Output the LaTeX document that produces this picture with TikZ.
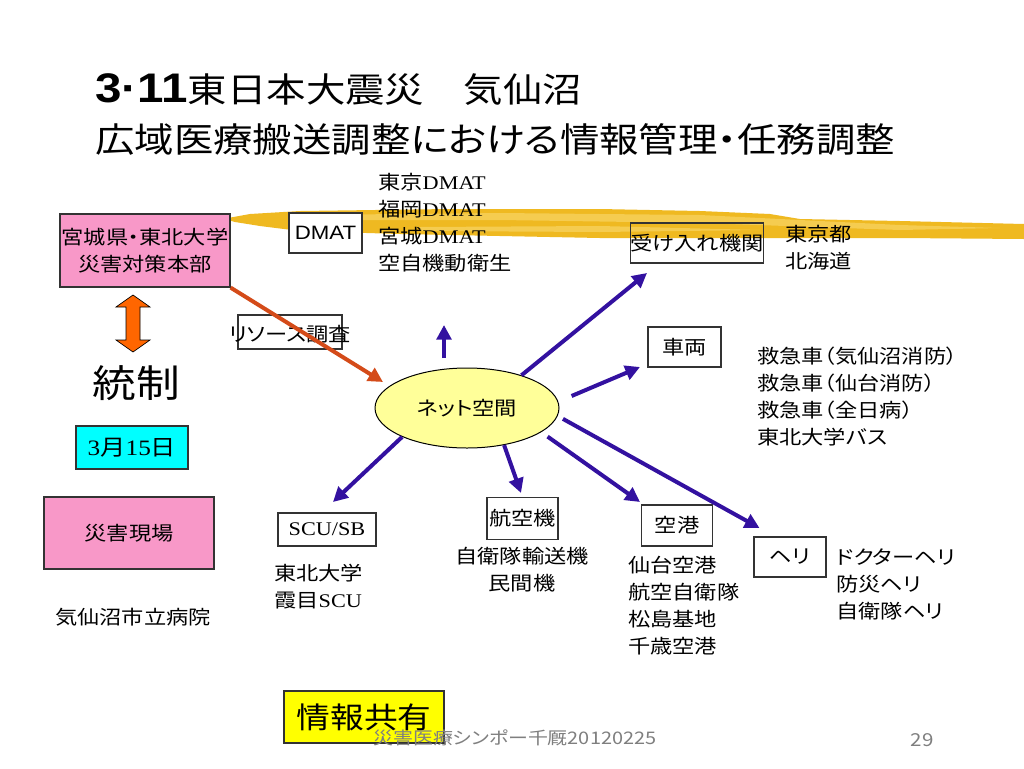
\documentclass[tikz,border=0pt]{standalone}
\usepackage{fontspec}
\setmainfont{Noto Sans CJK JP}[FakeStretch=1.15,RawFeature=+palt]
\newfontfamily\tm{Liberation Serif}[FakeStretch=1.15]
\newfontfamily\ar{Liberation Sans}[FakeStretch=1.15]
\usetikzlibrary{arrows.meta,shapes.geometric}
\definecolor{pinkc}{HTML}{F898C8}
\definecolor{cyanc}{HTML}{00FFFF}
\definecolor{yellc}{HTML}{FFFF00}
\definecolor{ellc}{HTML}{FFFF99}
\definecolor{orangec}{HTML}{FF6600}
\definecolor{redarr}{HTML}{D44B19}
\definecolor{arrblue}{HTML}{3311A0}
\definecolor{boxline}{HTML}{333333}
\definecolor{brushc}{HTML}{EFB921}
\definecolor{brushl}{HTML}{F5CC50}
\definecolor{footgray}{HTML}{7F7F7F}
\tikzset{
  norm/.style={font=\fontsize{14.5pt}{20.25pt}\selectfont},
  box/.style={norm, draw=boxline, line width=0.9pt, inner sep=0pt, align=center},
  txt/.style={norm, inner sep=0pt, align=left},
  barrow/.style={draw=arrblue, line width=3pt, -{Triangle[length=11pt,width=11pt]}},
  rarrow/.style={draw=redarr, line width=3pt, -{Triangle[length=11pt,width=11pt]}},
}
\begin{document}
\begin{tikzpicture}[x=0.75pt,y=-0.75pt]
\useasboundingbox (0,0) rectangle (1024,768);
\fill[white] (0,0) rectangle (1024,768);
% brush stroke
\fill[brushc] (228,218) -- (250,214) -- (300,211) -- (450,209) -- (600,209) -- (700,211)
  -- (770,214) -- (800,219) -- (900,221) -- (1024,224) -- (1024,239) -- (900,238)
  -- (800,238) -- (700,238) -- (600,238) -- (500,236) -- (400,234) -- (300,231)
  -- (260,226) -- (235,222) -- (228,220) -- cycle;
\fill[brushl] (300,215) -- (500,213) -- (700,215) -- (900,225) -- (1000,228) -- (900,230) -- (700,223) -- (500,220) -- (300,220) -- cycle;
\fill[brushl] (420,227) -- (600,226) -- (760,230) -- (600,232) -- (420,231) -- cycle;
% title
\node[anchor=west, inner sep=0pt, font=\fontsize{25.7pt}{36pt}\selectfont] (t1) at (95,90) {{\ar\bfseries\fontsize{31pt}{36pt}\selectfont 3·11}東日本大震災　気仙沼};
\node[anchor=west, inner sep=0pt, font=\fontsize{25.7pt}{36pt}\selectfont] (t2) at (95,139) {広域医療搬送調整における情報管理・任務調整};
% left column
\node[box, fill=pinkc, minimum width=127.5pt, minimum height=54.75pt] (hq) at (145,250.5) {宮城県・東北大学\\災害対策本部};
\filldraw[fill=orangec, draw=black, line width=0.5pt] (133,295) -- (150,307) -- (140,307) -- (140,340) -- (150,340) -- (133,352) -- (116,340) -- (126,340) -- (126,307) -- (116,307) -- cycle;
\node[inner sep=0pt, font=\fontsize{28.5pt}{30pt}\selectfont] (tousei) at (136,383) {統制};
\node[box, fill=cyanc, minimum width=84pt, minimum height=32.25pt, font=\fontsize{16.5pt}{18pt}\selectfont] (date) at (132,447.5) {{\tm 3}月{\tm 15}日};
\node[box, fill=pinkc, minimum width=127.5pt, minimum height=54pt] (site) at (129,533) {災害現場};
\node[txt] (hosp) at (133,617) {気仙沼市立病院};
% DMAT
\node[box, fill=white, minimum width=54.75pt, minimum height=30pt] (dmat) at (325.5,233) {{\ar DMAT}};
\node[txt, anchor=west] (dmatlist) at (378,222.5) {東京{\tm DMAT}\\福岡{\tm DMAT}\\宮城{\tm DMAT}\\空自機動衛生};
% resource
\node[box, minimum width=78pt, minimum height=25.5pt] (resbox) at (290,332) {};
\node[txt] (restext) at (290,334) {リソース調査};
% receiving
\node[box, minimum width=97.5pt, minimum height=30pt] (ukeire) at (697,243) {受け入れ機関};
\node[txt, anchor=west] (tokyo) at (785,248) {東京都\\北海道};
\node[box, minimum width=54.75pt, minimum height=30pt] (sharyo) at (684.5,347) {車両};
\node[txt, anchor=west] (kyukyu) at (757,396) {救急車（気仙沼消防）\\救急車（仙台消防）\\救急車（全日病）\\東北大学バス};
% net
\node[ellipse, draw=black, line width=0.75pt, fill=ellc, minimum width=138pt, minimum height=60pt, inner sep=0pt, font=\fontsize{14.5pt}{16pt}\selectfont] (net) at (467,408) {ネット空間};
% bottom boxes
\node[box, minimum width=73.5pt, minimum height=24.75pt] (scu) at (327,529.5) {{\tm SCU/SB}};
\node[txt, anchor=west] (scul) at (274,587) {東北大学\\霞目{\tm SCU}};
\node[box, minimum width=53.25pt, minimum height=31.5pt] (kouku) at (522.5,518.5) {航空機};
\node[txt, align=center] (koukul) at (522,570) {自衛隊輸送機\\民間機};
\node[box, minimum width=53.25pt, minimum height=30.75pt] (kuukou) at (677,525.5) {空港};
\node[txt, anchor=west] (kuukoul) at (628,606) {仙台空港\\航空自衛隊\\松島基地\\千歳空港};
\node[box, minimum width=54pt, minimum height=30pt] (heli) at (790,557) {ヘリ};
\node[txt, anchor=west] (helil) at (836,584) {ドクターヘリ\\防災ヘリ\\自衛隊ヘリ};
\node[box, fill=yellc, minimum width=120pt, minimum height=39pt, font=\fontsize{22pt}{24pt}\selectfont] (share) at (364,717) {情報共有};
% arrow end points
\coordinate (upbase) at (444,358);
\coordinate (uptip) at (444,325);
\coordinate (redtip) at (383,382);
\coordinate (tukeire) at (647,273);
\coordinate (tsharyo) at (640,367);
\coordinate (theli) at (759.5,528);
\coordinate (tkuukou) at (640,502);
\coordinate (tkouku) at (521,493);
\coordinate (tscu) at (333,502);
% arrows
\draw[rarrow] (hq.south east) -- (redtip);
\draw[barrow] (upbase) -- (uptip);
\draw[barrow] (net.31.9) -- (tukeire);
\draw[barrow, shorten <=10.8pt] (net.4.4) -- (tsharyo);
\draw[barrow, shorten <=4.5pt] (net.-5.36) -- (theli);
\draw[barrow, shorten <=5.8pt] (net.-18.65) -- (tkuukou);
\draw[barrow] (net.-45.8) -- (tkouku);
\draw[barrow] (net.-156.6) -- (tscu);
% footer
\node[anchor=west, inner sep=0pt, text=footgray, font=\fontsize{13pt}{16pt}\selectfont] (foot) at (373,738) {災害医療シンポー千厩20120225};
\node[inner sep=0pt, text=footgray, font=\fontsize{13.4pt}{16pt}\selectfont] (page) at (922,740) {29};
\end{tikzpicture}
\end{document}
